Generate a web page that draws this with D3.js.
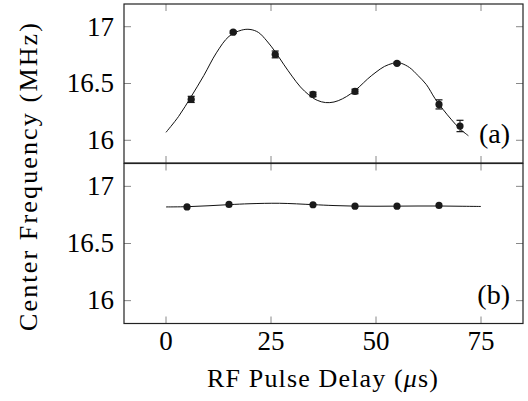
<html>
<head>
<meta charset="utf-8">
<script src="https://cdn.jsdelivr.net/npm/d3@7"></script>
</head>
<body style="margin:0">
<script>
"use strict"
// panel (a): measured points with error bars
var delayA=[6,16,26,35,45,55,65,70]
var freqA=[16.36,16.952,16.756,16.404,16.43,16.678,16.316,16.126]
var errA=[0.027,0.01,0.03,0.02,0.02,0.01,0.04,0.05]
// panel (a): fit curve
var fitXA=[0,3,6,9,12,15,18,20,22,24,26,28,30,32,34,36,38,40,42,44,46,48,50,52,54,55,56,58,60,62,64,66,68,70,72]
var fitYA=[16.07,16.21,16.385,16.57,16.77,16.915,16.97,16.976,16.95,16.875,16.78,16.67,16.565,16.47,16.4,16.352,16.332,16.337,16.365,16.41,16.47,16.54,16.6,16.65,16.678,16.683,16.678,16.64,16.57,16.49,16.37,16.27,16.18,16.1,16.04]
// panel (b)
var delayB=[5,15,35,45,55,65]
var freqB=[16.82,16.842,16.839,16.827,16.827,16.833]
var fitXB=[0,5,10,15,20,27,35,40,45,50,55,60,65,70,75]
var fitYB=[16.82,16.822,16.83,16.84,16.848,16.852,16.84,16.832,16.827,16.826,16.827,16.828,16.828,16.826,16.824]
var xTicks=[0,25,50,75]
var yTicks=[16,16.5,17]

var svg=d3.select('body').append('svg').attr('width',528).attr('height',401)

var x=d3.scaleLinear().domain([-10,85]).range([124,523])
var yA=d3.scaleLinear().domain([15.8,17.2]).range([163,4])
var yB=d3.scaleLinear().domain([15.8,17.2]).range([323.5,163.5])

var tickLen=7

function addText(sel,size,x0,y0,str){
  return sel.append('text').attr('x',x0).attr('y',y0).attr('font-family','Liberation Serif').attr('font-size',size).text(str)
}

function drawPanel(y,px,py,err,fx,fy,tag){
  var top=y.range()[1],bot=y.range()[0]
  var g=svg.append('g')
  // inward ticks
  xTicks.forEach(function(t){
    g.append('line').attr('x1',x(t)).attr('x2',x(t)).attr('y1',bot).attr('y2',bot-tickLen).attr('stroke','#888').attr('stroke-width',1)
    g.append('line').attr('x1',x(t)).attr('x2',x(t)).attr('y1',top).attr('y2',top+tickLen).attr('stroke','#888').attr('stroke-width',1)
  })
  yTicks.forEach(function(t){
    g.append('line').attr('x1',x.range()[0]).attr('x2',x.range()[0]+tickLen).attr('y1',y(t)).attr('y2',y(t)).attr('stroke','#888').attr('stroke-width',1)
    g.append('line').attr('x1',x.range()[1]).attr('x2',x.range()[1]-tickLen).attr('y1',y(t)).attr('y2',y(t)).attr('stroke','#888').attr('stroke-width',1)
    addText(g,27,114,y(t)+8.8,String(t)).attr('text-anchor','end')
  })
  // frame
  g.append('rect').attr('x',x.range()[0]).attr('y',top).attr('width',x.range()[1]-x.range()[0]).attr('height',bot-top).attr('fill','none').attr('stroke','#222').attr('stroke-width',1.2)
  // fit curve
  var line=d3.line().x(function(d,i){return x(fx[i])}).y(function(d){return y(d)}).curve(d3.curveCatmullRom)
  g.append('path').attr('d',line(fy)).attr('fill','none').attr('stroke','#111').attr('stroke-width',1)
  // error bars
  if(err){
    for(var i=0;i<px.length;i++){
      var cx=x(px[i])
      g.append('line').attr('x1',cx).attr('x2',cx).attr('y1',y(py[i]-err[i])).attr('y2',y(py[i]+err[i])).attr('stroke','#111').attr('stroke-width',1)
      g.append('line').attr('x1',cx-3.5).attr('x2',cx+3.5).attr('y1',y(py[i]-err[i])).attr('y2',y(py[i]-err[i])).attr('stroke','#111').attr('stroke-width',1.2)
      g.append('line').attr('x1',cx-3.5).attr('x2',cx+3.5).attr('y1',y(py[i]+err[i])).attr('y2',y(py[i]+err[i])).attr('stroke','#111').attr('stroke-width',1.2)
    }
  }
  g.selectAll('circle.pt').data(px).enter().append('circle').attr('class','pt')
    .attr('cx',function(d){return x(d)}).attr('cy',function(d,i){return y(py[i])}).attr('r',3.6).attr('fill','#1a1a1a')
  addText(g,28,510,bot-20,tag).attr('text-anchor','end')
}

drawPanel(yA,delayA,freqA,errA,fitXA,fitYA,'(a)')
drawPanel(yB,delayB,freqB,null,fitXB,fitYB,'(b)')

// x tick labels
xTicks.forEach(function(t){
  addText(svg,27,x(t),350,String(t)).attr('text-anchor','middle')
})

// axis titles
var xt=addText(svg,26,207,387,'').attr('textLength',231).attr('lengthAdjust','spacing')
xt.append('tspan').text('RF Pulse Delay (')
xt.append('tspan').attr('font-style','italic').text('\u03bc')
xt.append('tspan').text('s)')

addText(svg,26,0,0,'Center Frequency (MHz)').attr('transform','translate(37,331) rotate(-90)').attr('textLength',308).attr('lengthAdjust','spacing')
</script>
</body>
</html>
